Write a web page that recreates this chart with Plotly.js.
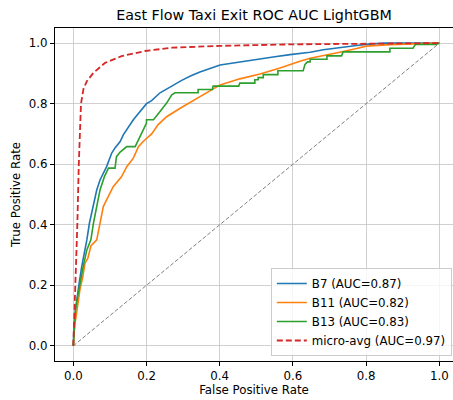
<!DOCTYPE html>
<html>
<head>
<meta charset="utf-8">
<script src="https://cdn.plot.ly/plotly-3.0.1.min.js"></script>
<style>html,body{margin:0;padding:0;background:#fff;}#chart{width:453px;height:400px;}</style>
</head>
<body>
<div id="chart"></div>
<script>
// ROC curve points
const b7Fpr = [0,0.002,0.006,0.009,0.016,0.023,0.027,0.032,0.037,0.044,0.055,0.064,0.073,0.091,0.105,0.114,0.128,0.137,0.164,0.2,0.214,0.237,0.269,0.283,0.296,0.323,0.346,0.401,0.474,0.546,0.592,0.647,0.683,0.738,0.774,0.8,0.85,1];
const b7Tpr = [0,0.07,0.119,0.152,0.207,0.262,0.284,0.317,0.35,0.405,0.471,0.515,0.548,0.592,0.637,0.654,0.675,0.698,0.747,0.8,0.81,0.836,0.858,0.868,0.877,0.893,0.905,0.928,0.942,0.954,0.962,0.97,0.978,0.985,0.992,0.996,1,1];

const b11Fpr = [0,0.004,0.008,0.012,0.018,0.026,0.032,0.04,0.046,0.048,0.064,0.073,0.082,0.091,0.109,0.132,0.146,0.164,0.178,0.191,0.214,0.232,0.255,0.292,0.332,0.346,0.401,0.455,0.51,0.565,0.592,0.619,0.647,0.683,0.728,0.774,0.8,0.865,0.956,1];
const b11Tpr = [0,0.07,0.1,0.141,0.185,0.229,0.273,0.29,0.317,0.33,0.35,0.405,0.46,0.482,0.526,0.559,0.592,0.62,0.658,0.675,0.7,0.731,0.757,0.785,0.814,0.825,0.862,0.882,0.898,0.918,0.93,0.94,0.95,0.96,0.97,0.982,0.99,0.995,0.998,1];

const b13Fpr = [0,0.003,0.006,0.012,0.018,0.027,0.037,0.042,0.048,0.055,0.064,0.073,0.085,0.096,0.114,0.118,0.128,0.146,0.169,0.182,0.2,0.2,0.219,0.237,0.255,0.269,0.278,0.341,0.341,0.38,0.382,0.452,0.455,0.496,0.496,0.505,0.505,0.519,0.519,0.559,0.559,0.628,0.633,0.64,0.647,0.647,0.693,0.693,0.733,0.737,0.865,0.865,0.928,0.935,0.99,1];
const b13Tpr = [0,0.08,0.119,0.163,0.207,0.262,0.317,0.33,0.35,0.405,0.46,0.515,0.559,0.587,0.587,0.625,0.64,0.658,0.658,0.691,0.736,0.747,0.747,0.774,0.802,0.829,0.836,0.836,0.847,0.847,0.858,0.858,0.868,0.868,0.879,0.879,0.886,0.886,0.896,0.896,0.909,0.909,0.93,0.938,0.938,0.947,0.947,0.958,0.958,0.971,0.971,0.983,0.983,0.996,0.996,1];

const microFpr = [0,0.003,0.007,0.011,0.015,0.018,0.021,0.028,0.037,0.055,0.087,0.132,0.196,0.27,0.4,0.6,0.8,1];
const microTpr = [0,0.1,0.2,0.4,0.6,0.7,0.8,0.85,0.874,0.902,0.935,0.957,0.974,0.985,0.991,0.996,0.999,1];

const chanceX = [0,1];
const chanceY = [0,1];

const seriesNames = ['B7 (AUC=0.87)','B11 (AUC=0.82)','B13 (AUC=0.83)','micro-avg (AUC=0.97)'];
const tickVals = [0,0.2,0.4,0.6,0.8,1.0];
const tickText = ['0.0','0.2','0.4','0.6','0.8','1.0'];

const FONT = 'DejaVu Sans, sans-serif';

const traces = [
  {x: chanceX, y: chanceY, mode:'lines', line:{color:'#808080', width:1, dash:'4px,2px'}, showlegend:false, hoverinfo:'skip'},
  {x: b7Fpr, y: b7Tpr, mode:'lines', name: seriesNames[0], line:{color:'#1f77b4', width:1.6}},
  {x: b11Fpr, y: b11Tpr, mode:'lines', name: seriesNames[1], line:{color:'#ff7f0e', width:1.6}},
  {x: b13Fpr, y: b13Tpr, mode:'lines', name: seriesNames[2], line:{color:'#2ca02c', width:1.6}},
  {x: microFpr, y: microTpr, mode:'lines', name: seriesNames[3], line:{color:'#d62728', width:1.8, dash:'6px,3px'}}
];

const axisCommon = {
  showgrid:true, gridcolor:'#c4c4c4', gridwidth:0.8, zeroline:false,
  showline:true, linecolor:'#000', linewidth:1,
  ticks:'outside', ticklen:4, tickwidth:1, tickcolor:'#000',
  tickvals: tickVals, ticktext: tickText,
  tickfont:{family:FONT, size:11.8, color:'#000'}
};

const layout = {
  width:453, height:400,
  margin:{l:55, r:0, t:28, b:39, pad:0},
  paper_bgcolor:'#fff', plot_bgcolor:'#fff',
  font:{family:FONT, color:'#000'},
  title:{text:'East Flow Taxi Exit ROC AUC LightGBM', font:{family:FONT, size:14.3, color:'#000'}, x:0.5, xref:'paper', y:0.962, yref:'container', yanchor:'middle'},
  xaxis: Object.assign({}, axisCommon, {range:[-0.05, 1.0374], mirror:true, automargin:false,
    title:{text:'False Positive Rate', font:{family:FONT, size:11.8, color:'#000'}, standoff:3}}),
  yaxis: Object.assign({}, axisCommon, {range:[-0.05, 1.05], mirror:false, automargin:false,
    title:{text:'True Positive Rate', font:{family:FONT, size:11.8, color:'#000'}, standoff:5}}),
  legend:{x:0.997, y:0.015, xanchor:'right', yanchor:'bottom',
    bgcolor:'rgba(255,255,255,0.8)', bordercolor:'#cccccc', borderwidth:1,
    font:{family:FONT, size:11.8, color:'#000'}, itemwidth:30, tracegroupgap:0},
  showlegend:true
};

Plotly.newPlot('chart', traces, layout, {staticPlot:true, displayModeBar:false});
</script>
</body>
</html>
